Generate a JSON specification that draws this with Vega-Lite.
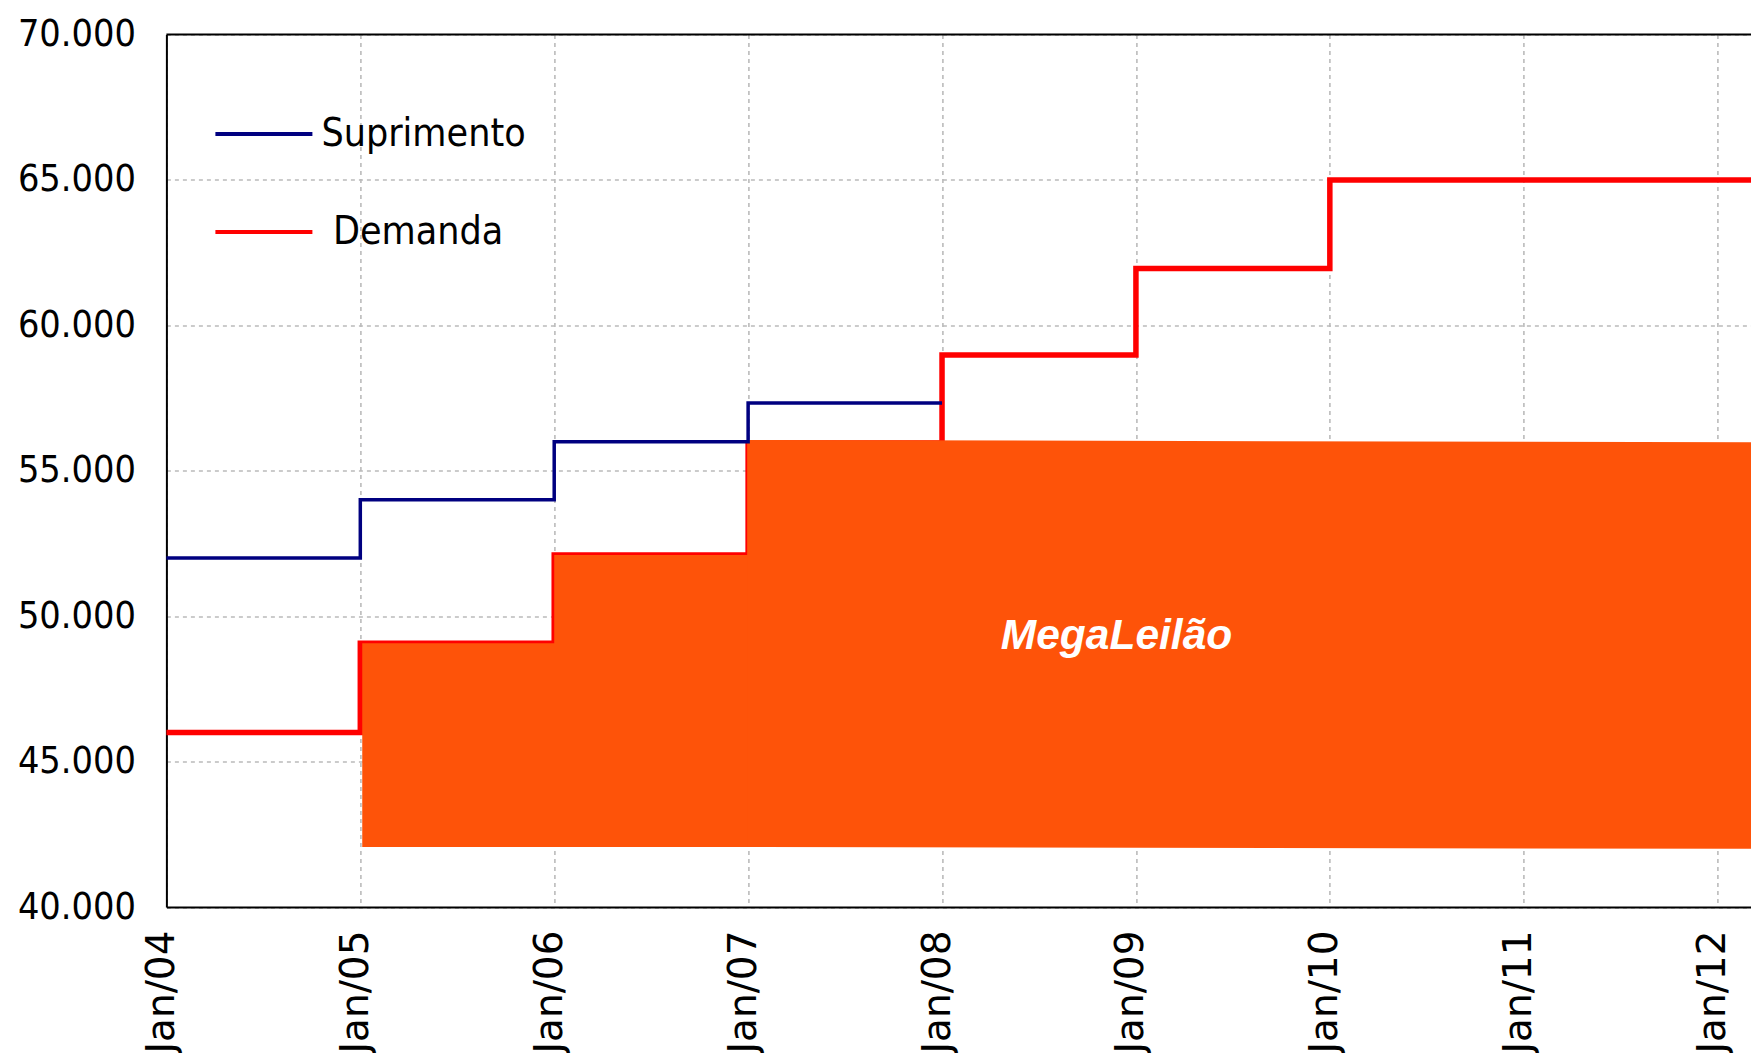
{
  "$schema": "https://vega.github.io/schema/vega-lite/v6.json",
  "autosize": "none",
  "padding": {"left": 166.4, "top": 34.5, "right": 0, "bottom": 146},
  "width": 1584.6,
  "height": 872.5,
  "background": "white",
  "config": {
    "view": {"stroke": null},
    "axis": {
      "ticks": false,
      "domainColor": "black",
      "domainWidth": 2,
      "gridColor": "#BBBBBB",
      "gridDash": [4, 4],
      "gridWidth": 1.6,
      "labelColor": "black",
      "title": null
    }
  },
  "datasets": {
    "linhas": [
      {"serie": "Suprimento", "ano": 2004, "valor": 52000},
      {"serie": "Suprimento", "ano": 2005, "valor": 54000},
      {"serie": "Suprimento", "ano": 2006, "valor": 56000},
      {"serie": "Suprimento", "ano": 2007, "valor": 57330},
      {"serie": "Suprimento", "ano": 2008, "valor": 57330},
      {"serie": "Demanda", "ano": 2004, "valor": 46000},
      {"serie": "Demanda", "ano": 2005, "valor": 49070},
      {"serie": "Demanda", "ano": 2006, "valor": 52100},
      {"serie": "Demanda", "ano": 2007, "valor": 55950},
      {"serie": "Demanda", "ano": 2008, "valor": 58980},
      {"serie": "Demanda", "ano": 2009, "valor": 61950},
      {"serie": "Demanda", "ano": 2010, "valor": 65000},
      {"serie": "Demanda", "ano": 2012.172, "valor": 64960}
    ],
    "leilaoDegraus": [
      {"ano": 2005.01, "topo": 49070, "base": 42060},
      {"ano": 2006, "topo": 52100, "base": 42060},
      {"ano": 2007, "topo": 52100, "base": 42060}
    ],
    "leilaoPlano": [
      {"ano": 2006.995, "topo": 56060, "base": 42060},
      {"ano": 2012.172, "topo": 55980, "base": 42000}
    ],
    "rotulo": [
      {"ano": 2008.9, "valor": 49310, "texto": "MegaLeilão"}
    ],
    "moldura": [
      {"valor": 70000}
    ]
  },
  "encoding": {
    "x": {
      "field": "ano",
      "type": "quantitative",
      "scale": {"domain": [2004, 2012.172], "nice": false, "zero": false},
      "axis": {
        "values": [2004, 2005, 2006, 2007, 2008, 2009, 2010, 2011, 2012],
        "labelExpr": "'Jan/' + substring(toString(datum.value), 2, 4)",
        "labelAngle": -90,
        "labelAlign": "right",
        "labelBaseline": "alphabetic",
        "labelOffset": 7,
        "labelPadding": 23,
        "labelFont": "DejaVu Sans",
        "labelFontSize": 39,
        "labelOverlap": false
      }
    },
    "y": {
      "field": "valor",
      "type": "quantitative",
      "scale": {"domain": [40000, 70000], "nice": false, "zero": false},
      "axis": {
        "values": [40000, 45000, 50000, 55000, 60000, 65000, 70000],
        "labelExpr": "replace(format(datum.value, ','), ',', '.')",
        "labelPadding": 31,
        "labelFont": "DejaVu Sans Condensed, Liberation Sans Narrow, DejaVu Sans",
        "labelFontSize": 37.5,
        "labelOverlap": false
      }
    }
  },
  "layer": [
    {
      "data": {"name": "linhas"},
      "transform": [{"filter": "datum.serie == 'Demanda'"}],
      "mark": {"type": "line", "interpolate": "step-after", "strokeWidth": 5.5},
      "encoding": {
        "color": {
          "field": "serie",
          "type": "nominal",
          "scale": {"domain": ["Suprimento", "Demanda"], "range": ["#000080", "#FF0000"]},
          "legend": {
            "title": null,
            "orient": "none",
            "legendX": 47,
            "legendY": 49,
            "padding": 0,
            "symbolType": "stroke",
            "symbolSize": 9409,
            "symbolStrokeWidth": 4,
            "labelFont": "DejaVu Sans Condensed, Liberation Sans Narrow, DejaVu Sans",
            "labelFontSize": 39,
            "labelColor": "black",
            "labelOffset": 7,
            "labelLimit": 0,
            "rowPadding": 27,
            "labelExpr": "(datum.value == 'Demanda' || datum.label == 'Demanda') ? '\u200b\u2004Demanda' : datum.label"
          }
        }
      }
    },
    {
      "data": {"name": "leilaoDegraus"},
      "mark": {"type": "area", "interpolate": "step-after", "color": "#FE5309"},
      "encoding": {
        "y": {"field": "topo", "type": "quantitative"},
        "y2": {"field": "base"}
      }
    },
    {
      "data": {"name": "leilaoPlano"},
      "mark": {"type": "area", "interpolate": "linear", "color": "#FE5309"},
      "encoding": {
        "y": {"field": "topo", "type": "quantitative"},
        "y2": {"field": "base"}
      }
    },
    {
      "data": {"name": "linhas"},
      "transform": [{"filter": "datum.serie == 'Suprimento'"}],
      "mark": {"type": "line", "interpolate": "step-after", "strokeWidth": 3.5},
      "encoding": {
        "color": {"field": "serie", "type": "nominal"}
      }
    },
    {
      "data": {"name": "moldura"},
      "mark": {"type": "rule", "color": "black", "strokeWidth": 2},
      "encoding": {
        "x": null,
        "y": {"field": "valor", "type": "quantitative"}
      }
    },
    {
      "data": {"name": "rotulo"},
      "mark": {
        "type": "text",
        "font": "Liberation Sans",
        "fontSize": 42.5,
        "fontWeight": "bold",
        "fontStyle": "italic",
        "color": "white",
        "align": "center",
        "baseline": "middle"
      },
      "encoding": {
        "text": {"field": "texto", "type": "nominal"}
      }
    }
  ]
}
